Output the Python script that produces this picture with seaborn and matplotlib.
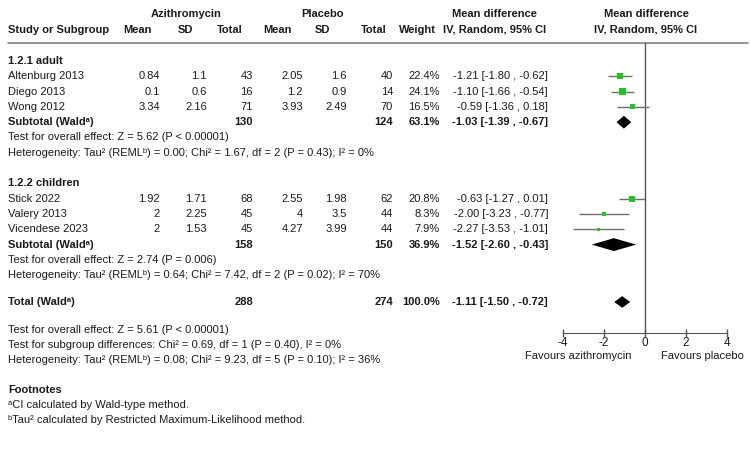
import numpy as np
import pandas as pd
import matplotlib
matplotlib.use("Agg")
import matplotlib.pyplot as plt
import seaborn as sns

# ---------- data ----------
studies = ['Altenburg 2013', 'Diego 2013', 'Wong 2012',
           'Stick 2022', 'Valery 2013', 'Vicendese 2023']
group = [0, 0, 0, 1, 1, 1]
az_mean = [0.84, 0.1, 3.34, 1.92, 2, 2]
az_sd = [1.1, 0.6, 2.16, 1.71, 2.25, 1.53]
az_n = [43, 16, 71, 68, 45, 45]
pl_mean = [2.05, 1.2, 3.93, 2.55, 4, 4.27]
pl_sd = [1.6, 0.9, 2.49, 1.98, 3.5, 3.99]
pl_n = [40, 14, 70, 62, 44, 44]
weight = [22.4, 24.1, 16.5, 20.8, 8.3, 7.9]
md = [-1.21, -1.10, -0.59, -0.63, -2.00, -2.27]
md_lo = [-1.80, -1.66, -1.36, -1.27, -3.23, -3.53]
md_hi = [-0.62, -0.54, 0.18, 0.01, -0.77, -1.01]

sub_labels = ['1.2.1 adult', '1.2.2 children']
sub_az_n = [130, 158]
sub_pl_n = [124, 150]
sub_weight = [63.1, 36.9]
sub_md = [-1.03, -1.52]
sub_lo = [-1.39, -2.60]
sub_hi = [-0.67, -0.43]
sub_tests = ['Test for overall effect: Z = 5.62 (P < 0.00001)',
             'Test for overall effect: Z = 2.74 (P = 0.006)']
sub_het = ['Heterogeneity: Tau² (REMLᵇ) = 0.00; Chi² = 1.67, df = 2 (P = 0.43); I² = 0%',
           'Heterogeneity: Tau² (REMLᵇ) = 0.64; Chi² = 7.42, df = 2 (P = 0.02); I² = 70%']

tot_az_n, tot_pl_n, tot_weight = 288, 274, 100.0
tot_md, tot_lo, tot_hi = -1.11, -1.50, -0.72
tot_notes = ['Test for overall effect: Z = 5.61 (P < 0.00001)',
             'Test for subgroup differences: Chi² = 0.69, df = 1 (P = 0.40), I² = 0%',
             'Heterogeneity: Tau² (REMLᵇ) = 0.08; Chi² = 9.23, df = 5 (P = 0.10); I² = 36%']
footnotes = ['ᵃCI calculated by Wald-type method.',
             'ᵇTau² calculated by Restricted Maximum-Likelihood method.']
xticks = [-4, -2, 0, 2, 4]

# ---------- style ----------
sns.set_style('white')
plt.rcParams['font.family'] = ['Liberation Sans', 'DejaVu Sans']
FS = 8
TXT = '#1a1a1a'
W, H = 750, 450

def ypx(r):
    return 61 + 15.3 * r

fig = plt.figure(figsize=(7.5, 4.5), dpi=100)

# table part, drawn in pixel coordinates
tab = fig.add_axes([0, 0, 1, 1])
tab.set_xlim(0, W)
tab.set_ylim(H, 0)
tab.axis('off')

def t(x, y, s, ha='left', bold=False):
    tab.text(x, y, s, ha=ha, va='center', fontsize=FS, color=TXT,
             fontweight='bold' if bold else 'normal')

# headers
t(186, 14, 'Azithromycin', 'center', True)
t(323, 14, 'Placebo', 'center', True)
t(494, 14, 'Mean difference', 'center', True)
t(646, 14, 'Mean difference', 'center', True)
t(8, 30, 'Study or Subgroup', bold=True)
for x, s in [(137, 'Mean'), (185, 'SD'), (230, 'Total'), (277, 'Mean'),
             (322, 'SD'), (374, 'Total'), (417, 'Weight'),
             (495, 'IV, Random, 95% CI'), (646, 'IV, Random, 95% CI')]:
    t(x, 30, s, 'center', True)
tab.axhline(43, xmin=8 / W, xmax=748 / W, color='#808080', lw=1.2)

cols = [160, 207, 253, 303, 347, 393, 440, 548]

def ci_txt(m, lo, hi):
    return f'{m:.2f} [{lo:.2f} , {hi:.2f}]'

# study rows
rows = []
k = {0: 0, 1: 0}
for i, name in enumerate(studies):
    g = group[i]
    k[g] += 1
    r = 8 * g + k[g]
    rows.append(r)
    y = ypx(r)
    t(8, y, name)
    vals = [f'{az_mean[i]:g}', f'{az_sd[i]:g}', f'{az_n[i]}', f'{pl_mean[i]:g}',
            f'{pl_sd[i]:g}', f'{pl_n[i]}', f'{weight[i]:.1f}%',
            ci_txt(md[i], md_lo[i], md_hi[i])]
    for x, s in zip(cols, vals):
        t(x, y, s, 'right')

# subgroup headers, subtotals
sub_rows = []
for g in range(2):
    t(8, ypx(8 * g), sub_labels[g], bold=True)
    r = 8 * g + 4
    sub_rows.append(r)
    t(8, ypx(r), 'Subtotal (Waldᵃ)', bold=True)
    t(cols[2], ypx(r), f'{sub_az_n[g]}', 'right', True)
    t(cols[5], ypx(r), f'{sub_pl_n[g]}', 'right', True)
    t(cols[6], ypx(r), f'{sub_weight[g]:.1f}%', 'right', True)
    t(cols[7], ypx(r), ci_txt(sub_md[g], sub_lo[g], sub_hi[g]), 'right', True)
    t(8, ypx(r + 1), sub_tests[g])
    t(8, ypx(r + 2), sub_het[g])

tot_row = 15.75
t(8, ypx(tot_row), 'Total (Waldᵃ)', bold=True)
t(cols[2], ypx(tot_row), f'{tot_az_n}', 'right', True)
t(cols[5], ypx(tot_row), f'{tot_pl_n}', 'right', True)
t(cols[6], ypx(tot_row), f'{tot_weight:.1f}%', 'right', True)
t(cols[7], ypx(tot_row), ci_txt(tot_md, tot_lo, tot_hi), 'right', True)

for j, s in enumerate(tot_notes):
    t(8, 330 + 15 * j, s)
t(8, 390, 'Footnotes', bold=True)
for j, s in enumerate(footnotes):
    t(8, 405 + 15 * j, s)

t(578, 356, 'Favours azithromycin', 'center')
t(702, 356, 'Favours placebo', 'center')

# ---------- forest part ----------
ax = fig.add_axes([563 / W, (H - 333) / H, 164 / W, 290 / H])
ax.patch.set_alpha(0)
ax.set_xlim(-4, 4)
ax.set_ylim((333 - 61) / 15.3, (43 - 61) / 15.3)

ax.axvline(0, color='#555555', lw=1, zorder=1)
ax.hlines(rows, md_lo, md_hi, color='#6e6e6e', lw=1, zorder=2)

df = pd.DataFrame({'md': md, 'row': rows, 'weight': weight})
sns.scatterplot(data=df, x='md', y='row', size='weight', sizes=(5, 20),
                size_norm=(7.9, 24.1), marker='s', color='#22c422',
                edgecolor='none', legend=False, ax=ax, zorder=3)

h = 0.42
for g in range(2):
    r = sub_rows[g]
    ax.fill([sub_lo[g], sub_md[g], sub_hi[g], sub_md[g]], [r, r - h, r, r + h],
            color='black', lw=0, zorder=3)
ax.fill([tot_lo, tot_md, tot_hi, tot_md],
        [tot_row, tot_row - 0.38, tot_row, tot_row + 0.38],
        color='black', lw=0, zorder=3)

for s in ['left', 'top', 'right']:
    ax.spines[s].set_visible(False)
ax.spines['bottom'].set_bounds(-4, 4)
ax.spines['bottom'].set_color('#555555')
ax.set_yticks([])
ax.set_xticks(xticks)
ax.set_xticklabels([str(v) for v in xticks])
ax.tick_params(axis='x', direction='inout', length=6, width=1, color='#555555',
               labelsize=FS + 0.5, labelcolor=TXT, pad=0, bottom=True)
ax.set_xlabel('')
ax.set_ylabel('')

fig.savefig('out.png', dpi=100)
